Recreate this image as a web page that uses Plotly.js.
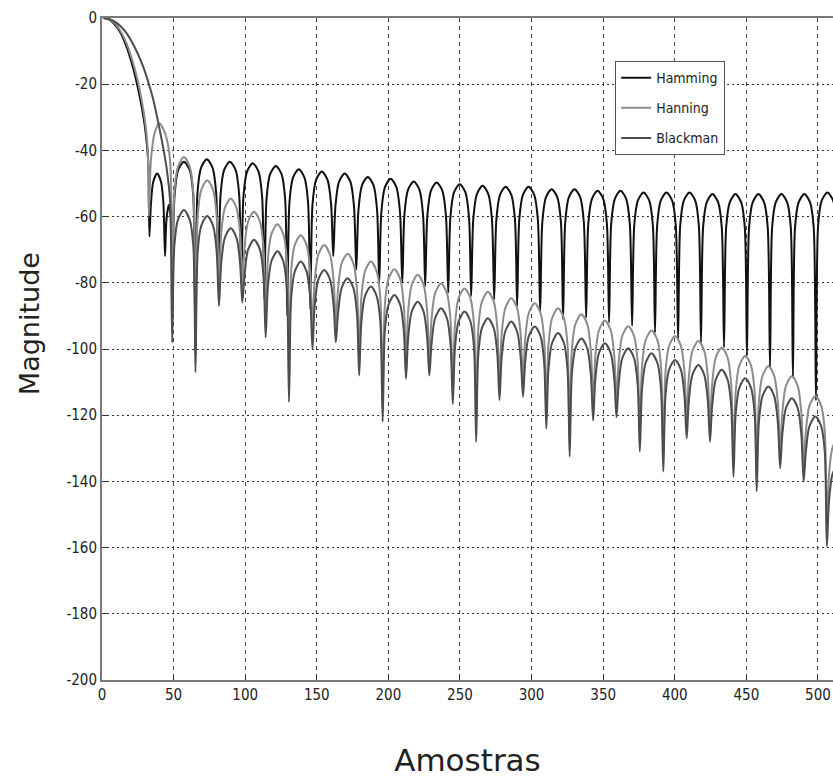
<!DOCTYPE html>
<html>
<head>
<meta charset="utf-8">
<script src="https://cdn.plot.ly/plotly-3.0.1.min.js"></script>
<style>html,body{margin:0;padding:0;background:#fff;}#chart{width:833px;height:778px;}</style>
</head>
<body>
<div id="chart"></div>
<script>
// ---- data ----
const xTicks = [0,50,100,150,200,250,300,350,400,450,500];
const yTicks = [-200,-180,-160,-140,-120,-100,-80,-60,-40,-20,0];

const hammingX = [1,5,9,13,17,21,25,28,30,31.5,32.5,33.1,
34.2,35.8,38.5,41.2,42.9,44,
45,46.6,48.2,49.2,
50.7,53.2,57.2,61.2,63.7,65.2,
66.7,69.2,73.2,77.2,79.7,81.3,
82.8,85.3,89.3,93.3,95.8,97.3,
98.8,101.3,105.3,109.3,111.8,113.4,
114.9,117.4,121.4,125.4,127.9,129.4,
130.9,133.4,137.4,141.4,143.9,145.5,
147,149.5,153.5,157.5,160,161.5,
163,165.5,169.5,173.5,176,177.6,
179.1,181.6,185.6,189.6,192.1,193.6,
195.1,197.6,201.6,205.6,208.1,209.7,
211.2,213.7,217.7,221.7,224.2,225.7,
227.2,229.7,233.7,237.7,240.2,241.8,
243.3,245.8,249.8,253.8,256.3,257.8,
259.3,261.8,265.8,269.8,272.3,273.9,
275.4,277.9,281.9,285.9,288.4,289.9,
291.4,293.9,297.9,301.9,304.4,306,
307.5,310,314,318,320.5,322,
323.5,326,330,334,336.5,338.1,
339.6,342.1,346.1,350.1,352.6,354.1,
355.6,358.1,362.1,366.1,368.6,370.2,
371.7,374.2,378.2,382.2,384.7,386.2,
387.7,390.2,394.2,398.2,400.7,402.3,
403.8,406.3,410.3,414.3,416.8,418.3,
419.8,422.3,426.3,430.3,432.8,434.4,
435.9,438.4,442.4,446.4,448.9,450.4,
451.9,454.4,458.4,462.4,464.9,466.5,
468,470.5,474.5,478.5,481,482.5,
484,486.5,490.5,494.5,497,498.6,
500.1,502.6,506.6,510.6,513.1];

const hammingY = [0,-0.5,-2,-4.5,-8.5,-14,-21,-27.5,-33,-39,-45,-66,
-56,-49.5,-47,-49.5,-56,-72,
-61,-56.5,-61,-75,
-53.4,-45.9,-43.4,-45.9,-53.4,-100,
-52.7,-45.2,-42.7,-45.2,-52.7,-80,
-53.4,-45.9,-43.4,-45.9,-53.4,-80,
-53.9,-46.4,-43.9,-46.4,-53.9,-85,
-54.7,-47.2,-44.7,-47.2,-54.7,-90,
-55.7,-48.2,-45.7,-48.2,-55.7,-88,
-56.4,-48.9,-46.4,-48.9,-56.4,-72,
-57,-49.5,-47,-49.5,-57,-76,
-58,-50.5,-48,-50.5,-58,-80,
-58.6,-51.1,-48.6,-51.1,-58.6,-80,
-59.4,-51.9,-49.4,-51.9,-59.4,-81,
-59.7,-52.2,-49.7,-52.2,-59.7,-83,
-60.2,-52.7,-50.2,-52.7,-60.2,-84,
-60.7,-53.2,-50.7,-53.2,-60.7,-85,
-61,-53.5,-51,-53.5,-61,-87,
-61,-53.5,-51,-53.5,-61,-89,
-61.7,-54.2,-51.7,-54.2,-61.7,-91,
-61.7,-54.2,-51.7,-54.2,-61.7,-90.5,
-62.2,-54.7,-52.2,-54.7,-62.2,-92,
-62.2,-54.7,-52.2,-54.7,-62.2,-93,
-62.7,-55.2,-52.7,-55.2,-62.7,-95,
-62.7,-55.2,-52.7,-55.2,-62.7,-97,
-62.7,-55.2,-52.7,-55.2,-62.7,-98,
-63.2,-55.7,-53.2,-55.7,-63.2,-99.5,
-63.2,-55.7,-53.2,-55.7,-63.2,-102,
-63.2,-55.7,-53.2,-55.7,-63.2,-105.5,
-63.2,-55.7,-53.2,-55.7,-63.2,-108.6,
-63.2,-55.7,-53.2,-55.7,-63.2,-115.5,
-62.7,-55.2,-52.7,-55.2,-62.7];

const hanningMainX = [1,5,9,13,17,21,25,28,30,31.5,32.2,32.7,
34.2,36.7,40,44,47.5,49];
const hanningMainY = [0,-0.4,-1.6,-4,-7.5,-12.5,-19,-25.5,-31,-37,-44,-60,
-42.8,-34.8,-31.8,-34.8,-42.8,-93];

const blackmanMainX = [1,5,9,13,17,21,25,29,33,36,39,42,45,47.5,49];
const blackmanMainY = [0,-0.3,-1.1,-2.5,-4.5,-7.3,-10.8,-15,-20.3,-25,-31,-37.5,-45,-55,-98];

// side-lobe sample positions shared by Hanning and Blackman (same null positions)
const sideLobeX = [50.5,53,57.2,61.3,63.8,65.3,
66.8,69.3,73.5,77.6,80.1,81.7,
83.2,85.7,89.9,94,96.5,98,
99.5,102,106.2,110.3,112.8,114.3,
115.8,118.3,122.5,126.6,129.1,130.6,
132.1,134.6,138.8,142.9,145.4,147,
148.5,151,155.2,159.3,161.8,163.3,
164.8,167.3,171.5,175.6,178.1,179.6,
181.1,183.6,187.8,191.9,194.4,196,
197.5,200,204.2,208.3,210.8,212.3,
213.8,216.3,220.5,224.6,227.1,228.6,
230.1,232.6,236.8,240.9,243.4,245,
246.5,249,253.2,257.3,259.8,261.3,
262.8,265.3,269.5,273.6,276.1,277.6,
279.1,281.6,285.8,289.9,292.4,294,
295.5,298,302.2,306.3,308.8,310.3,
311.8,314.3,318.5,322.6,325.1,326.6,
328.1,330.6,334.8,338.9,341.4,343,
344.5,347,351.2,355.3,357.8,359.3,
360.8,363.3,367.5,371.6,374.1,375.6,
377.1,379.6,383.8,387.9,390.4,392,
393.5,396,400.2,404.3,406.8,408.3,
409.8,412.3,416.5,420.6,423.1,424.6,
426.1,428.6,432.8,436.9,439.4,441,
442.5,445,449.2,453.3,455.8,457.2,
458.7,461.2,465.4,469.5,472,473.6,
475.1,477.6,481.8,485.9,488.4,490,
491.5,494,498.2,502.3,504.8,506.2,
507.7,510,512];

const hanningSideY = [-53,-45,-42,-45,-53,-102,
-60,-52,-49,-52,-60,-82,
-65.5,-57.5,-54.5,-57.5,-65.5,-81,
-69.5,-61.5,-58.5,-61.5,-69.5,-91.5,
-73.3,-65.3,-62.3,-65.3,-73.3,-111,
-76.6,-68.6,-65.6,-68.6,-76.6,-95,
-79.6,-71.6,-68.6,-71.6,-79.6,-93,
-82.2,-74.2,-71.2,-74.2,-82.2,-103,
-84.6,-76.6,-73.6,-76.6,-84.6,-117,
-86.9,-78.9,-75.9,-78.9,-86.9,-104,
-88.6,-80.6,-77.6,-80.6,-88.6,-103,
-91.2,-83.2,-80.2,-83.2,-91.2,-111.6,
-92.7,-84.7,-81.7,-84.7,-92.7,-123,
-93.7,-85.7,-82.7,-85.7,-93.7,-110.4,
-95.7,-87.7,-84.7,-87.7,-95.7,-109.4,
-97.2,-89.2,-86.2,-89.2,-97.2,-119,
-98.7,-90.7,-87.7,-90.7,-98.7,-127.5,
-100.5,-92.5,-89.5,-92.5,-100.5,-116.6,
-102.4,-94.4,-91.4,-94.4,-102.4,-115.6,
-104.1,-96.1,-93.1,-96.1,-104.1,-126,
-105.4,-97.4,-94.4,-97.4,-105.4,-132,
-107.1,-99.1,-96.1,-99.1,-107.1,-122,
-108.6,-100.6,-97.6,-100.6,-108.6,-123,
-110.6,-102.6,-99.6,-102.6,-110.6,-133.6,
-113.1,-105.1,-102.1,-105.1,-113.1,-138,
-116.2,-108.2,-105.2,-108.2,-116.2,-131,
-119.2,-111.2,-108.2,-111.2,-119.2,-135,
-125.2,-117.2,-114.2,-117.2,-125.2,-154.7,
-138,-130,-128];

const blackmanSideY = [-69,-61,-58,-61,-69,-107,
-70.8,-62.8,-59.8,-62.8,-70.8,-87,
-74.5,-66.5,-63.5,-66.5,-74.5,-86,
-78,-70,-67,-70,-78,-96.5,
-81.5,-73.5,-70.5,-73.5,-81.5,-116,
-84.6,-76.6,-73.6,-76.6,-84.6,-100,
-87.1,-79.1,-76.1,-79.1,-87.1,-98,
-89.6,-81.6,-78.6,-81.6,-89.6,-108,
-92.1,-84.1,-81.1,-84.1,-92.1,-122,
-94.7,-86.7,-83.7,-86.7,-94.7,-109,
-96.7,-88.7,-85.7,-88.7,-96.7,-108,
-98.7,-90.7,-87.7,-90.7,-98.7,-116.6,
-99.7,-91.7,-88.7,-91.7,-99.7,-128,
-101.7,-93.7,-90.7,-93.7,-101.7,-115.4,
-102.7,-94.7,-91.7,-94.7,-102.7,-114.4,
-104.2,-96.2,-93.2,-96.2,-104.2,-124,
-106.2,-98.2,-95.2,-98.2,-106.2,-132.5,
-107.8,-99.8,-96.8,-99.8,-107.8,-121.6,
-109.3,-101.3,-98.3,-101.3,-109.3,-120.6,
-110.8,-102.8,-99.8,-102.8,-110.8,-131,
-112.3,-104.3,-101.3,-104.3,-112.3,-137,
-114.3,-106.3,-103.3,-106.3,-114.3,-127,
-115.8,-107.8,-104.8,-107.8,-115.8,-128,
-117.3,-109.3,-106.3,-109.3,-117.3,-138.6,
-119.8,-111.8,-108.8,-111.8,-119.8,-143,
-122.3,-114.3,-111.3,-114.3,-122.3,-136,
-125.9,-117.9,-114.9,-117.9,-125.9,-140,
-131.4,-123.4,-120.4,-123.4,-131.4,-159.7,
-146,-138,-136];

const hanningX = hanningMainX.concat(sideLobeX);
const hanningY = hanningMainY.concat(hanningSideY);
const blackmanX = blackmanMainX.concat(sideLobeX);
const blackmanY = blackmanMainY.concat(blackmanSideY);

const narrow = "'Liberation Sans Narrow', 'DejaVu Sans Condensed', 'Arial Narrow', sans-serif";
const lineShape = {shape: 'spline', smoothing: 0.8, width: 2};

const traces = [
  {x: hammingX, y: hammingY, name: 'Hamming', mode: 'lines', legendgroup: 'a',
   line: Object.assign({}, lineShape, {color: '#111111'})},
  {x: hanningX, y: hanningY, name: 'Hanning', mode: 'lines', legendgroup: 'b',
   line: Object.assign({}, lineShape, {color: '#8c8c8c'})},
  {x: blackmanX, y: blackmanY, name: 'Blackman', mode: 'lines', legendgroup: 'c',
   line: Object.assign({}, lineShape, {color: '#4d4d4d'})}
];

const layout = {
  width: 833, height: 778,
  margin: {l: 102, r: 0, t: 18, b: 98},
  paper_bgcolor: '#ffffff', plot_bgcolor: '#ffffff',
  showlegend: true,
  xaxis: {
    range: [0, 510.5], tickvals: xTicks, ticktext: xTicks.map(String),
    ticks: 'inside', ticklen: 5, tickcolor: '#333', tickwidth: 1,
    showline: true, linecolor: '#7a7a7a', linewidth: 2, mirror: true,
    showgrid: true, gridcolor: '#444', gridwidth: 1, griddash: '4px,4px',
    zeroline: false,
    tickfont: {family: narrow, size: 15, color: '#222'},
    title: {text: 'Amostras', standoff: 48,
            font: {family: 'DejaVu Sans', size: 31, color: '#222'}}
  },
  yaxis: {
    range: [-200, 0], tickvals: yTicks, ticktext: yTicks.map(String),
    ticks: 'inside', ticklen: 5, tickcolor: '#333', tickwidth: 1,
    showline: true, linecolor: '#7a7a7a', linewidth: 2, mirror: false,
    showgrid: true, gridcolor: '#333', gridwidth: 1, griddash: '2px,3px',
    zeroline: false,
    tickfont: {family: narrow, size: 15, color: '#222'}
  },
  annotations: [{
    text: 'Magnitude', xref: 'paper', yref: 'paper',
    x: -0.0999, y: 0.539, xanchor: 'center', yanchor: 'middle',
    textangle: -90, showarrow: false,
    font: {family: 'DejaVu Sans', size: 27, color: '#222'}
  }],
  legend: {
    x: 0.702, y: 0.935, xanchor: 'left', yanchor: 'top',
    bgcolor: '#ffffff', bordercolor: '#555', borderwidth: 1,
    font: {family: narrow, size: 14, color: '#222'},
    traceorder: 'grouped', tracegroupgap: 9
  }
};

Plotly.newPlot('chart', traces, layout, {displayModeBar: false, staticPlot: true});
</script>
</body>
</html>
